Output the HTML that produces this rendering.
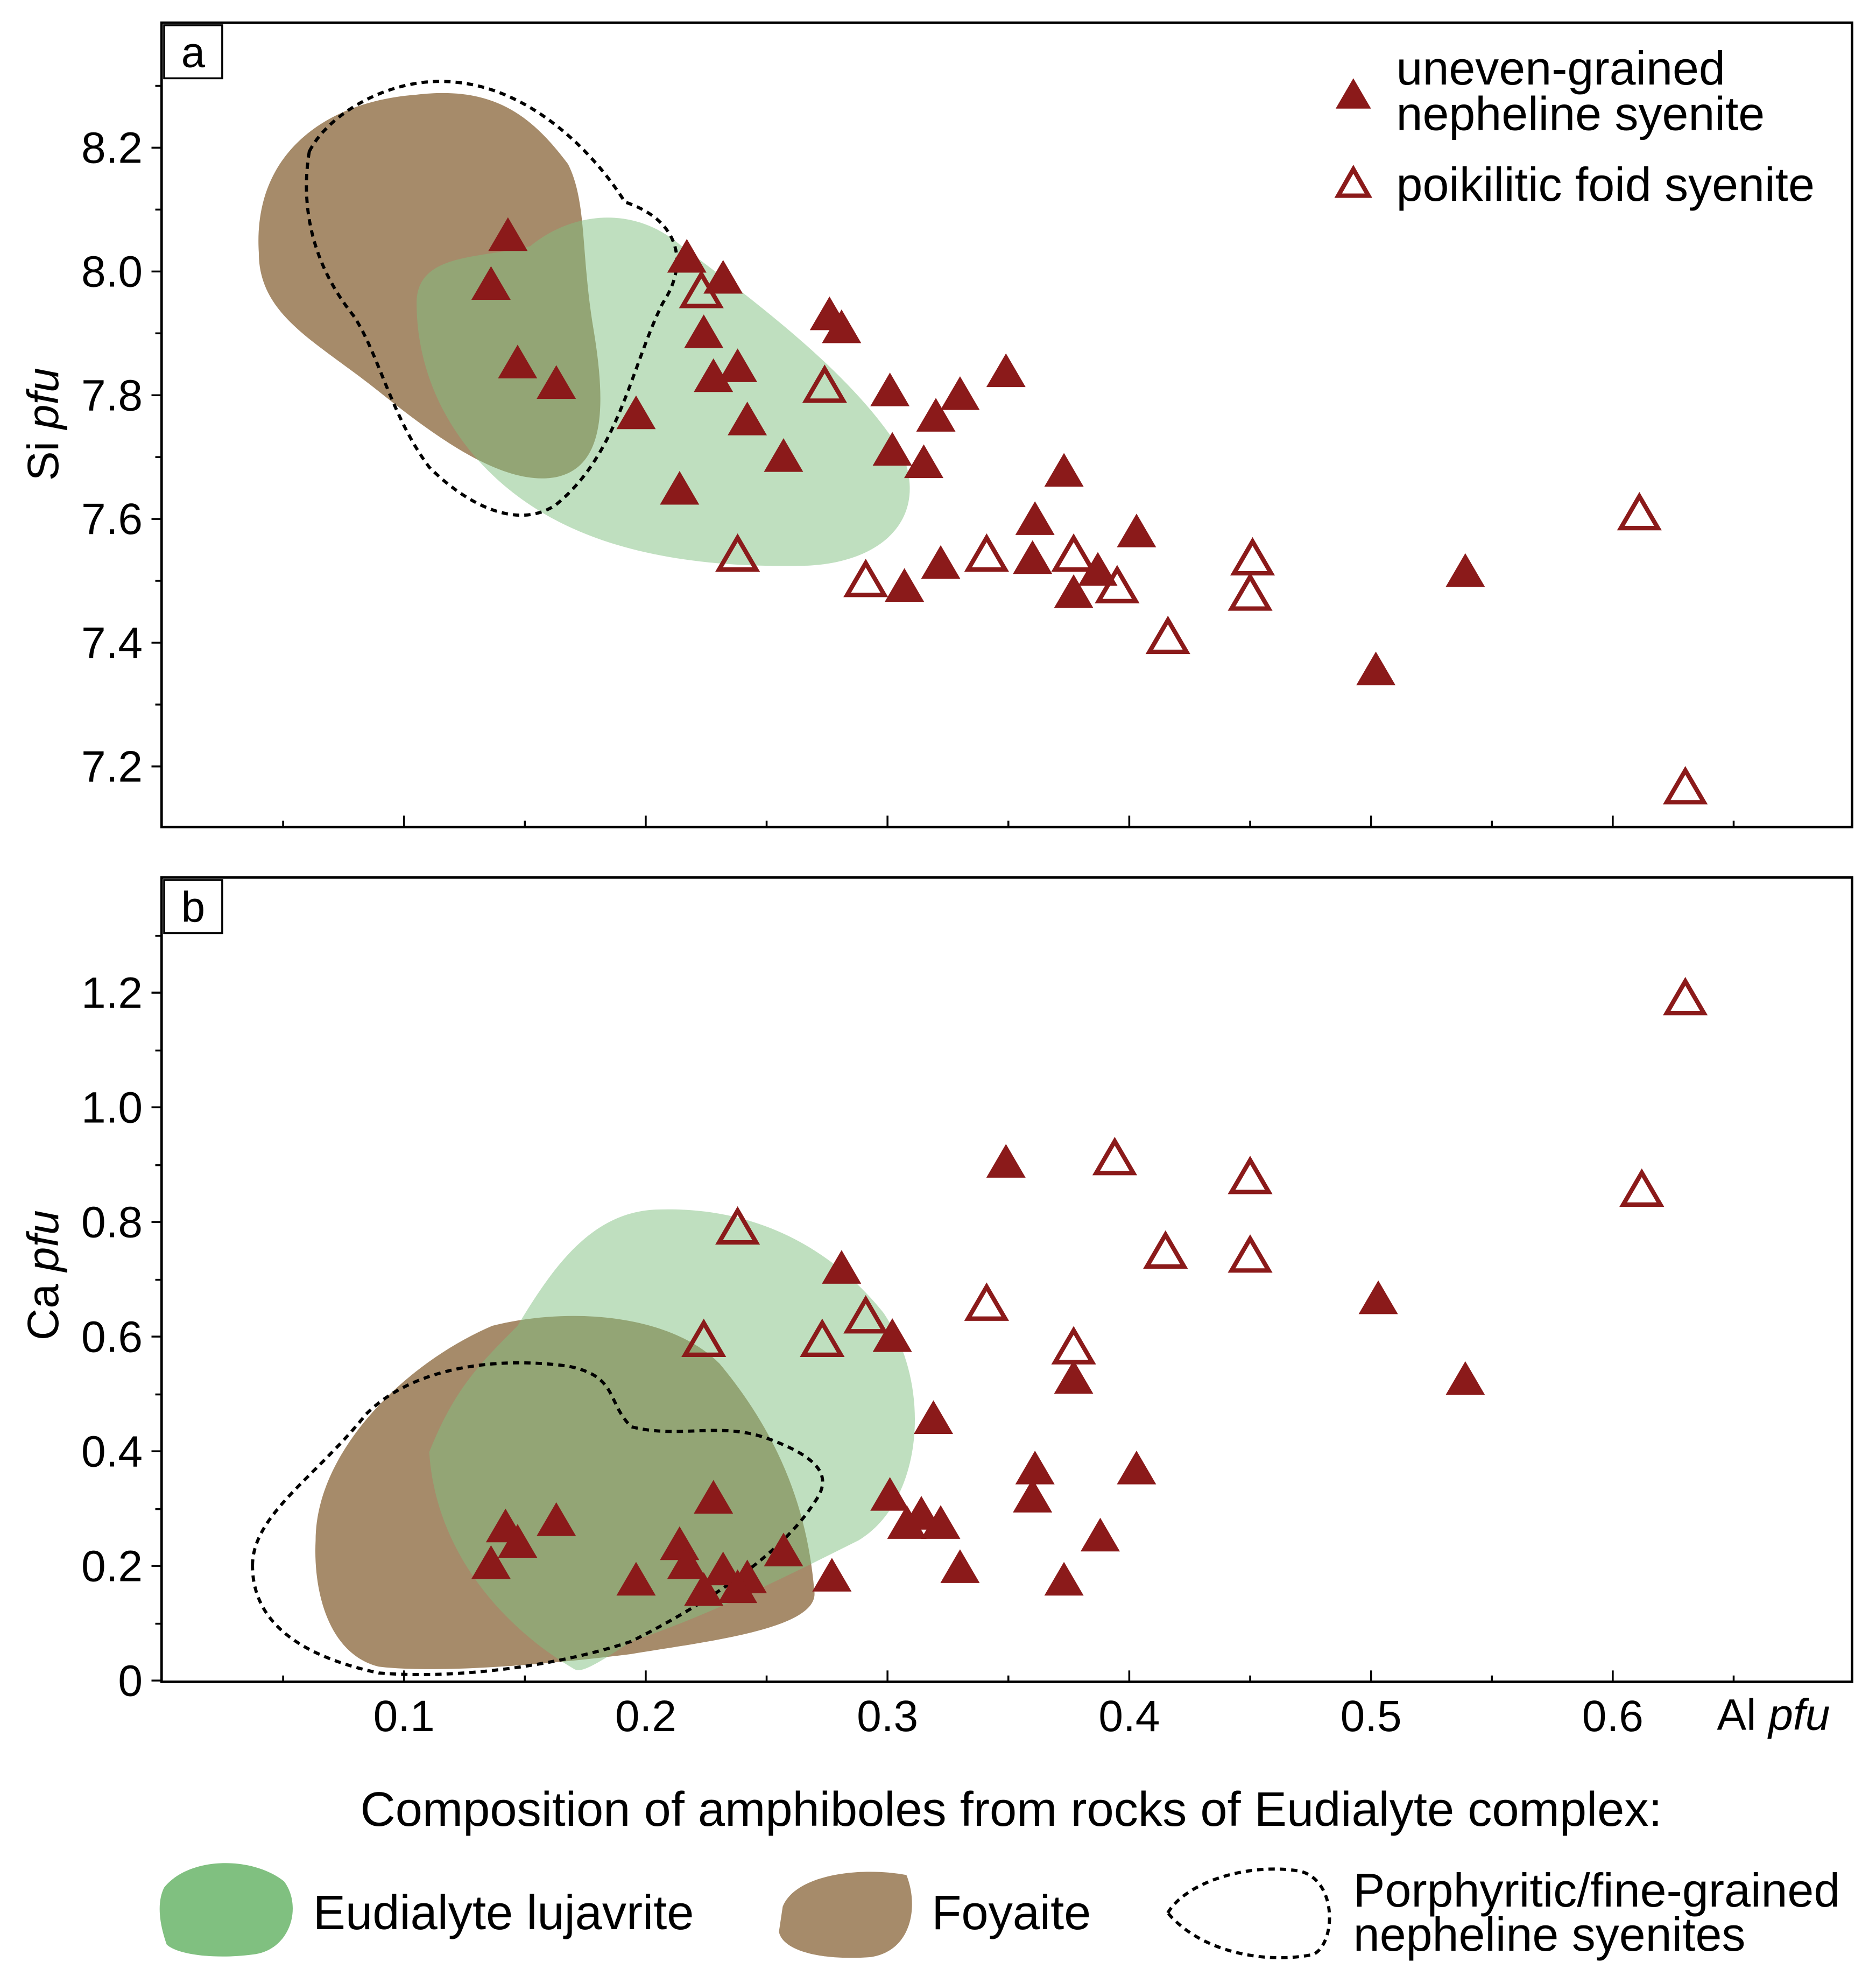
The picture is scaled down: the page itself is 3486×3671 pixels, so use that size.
<!DOCTYPE html>
<html><head><meta charset="utf-8"><style>
html,body{margin:0;padding:0;background:#fff}
svg{display:block;font-family:"Liberation Sans",Arial,sans-serif}
</style></head><body>
<svg id="chart" width="3486" height="3671" viewBox="0 0 1486 1565" preserveAspectRatio="none" xmlns="http://www.w3.org/2000/svg">
<g id="fields">
<path d="M205 200 C200 120 260 80 330 75 C390 68 420 90 450 130 C465 160 460 200 470 260 C480 320 480 370 440 378 C400 385 350 350 300 310 C250 270 205 250 205 200 Z" fill="#a68b6a"/>
<path d="M330 240 C330 200 380 205 420 195 C450 170 500 160 540 195 C600 240 680 300 715 360 C735 410 700 445 640 448 C560 450 480 440 420 400 C360 360 330 300 330 240 Z" fill="#80c080" fill-opacity="0.5"/>
<path d="M245 120 C260 90 310 60 360 65 C420 70 470 120 495 160 C540 175 545 210 525 240 C500 290 490 360 440 400 C410 420 370 400 340 370 C310 330 300 280 280 250 C240 200 240 150 245 120 Z" fill="none" stroke="#000" stroke-width="2.5" stroke-dasharray="5,4"/>
<path d="M250 1220 C250 1150 320 1080 390 1050 C450 1035 530 1040 570 1080 C620 1140 640 1200 645 1260 C650 1290 560 1300 500 1310 C420 1320 340 1325 300 1320 C260 1310 248 1260 250 1220 Z" fill="#a68b6a"/>
<path d="M340 1150 C360 1100 380 1080 410 1050 C440 1000 470 960 520 958 C600 955 660 990 700 1040 C740 1100 730 1190 680 1220 C620 1250 560 1280 500 1300 C470 1320 460 1325 455 1322 C400 1290 345 1230 340 1150 Z" fill="#80c080" fill-opacity="0.5"/>
<path d="M200 1240 C200 1200 250 1170 290 1120 C330 1080 400 1075 450 1082 C490 1090 480 1110 500 1130 C540 1140 570 1125 610 1140 C650 1155 660 1170 645 1190 C620 1230 560 1270 500 1300 C440 1320 360 1330 300 1325 C230 1310 200 1280 200 1240 Z" fill="none" stroke="#000" stroke-width="2.5" stroke-dasharray="5,4"/>
</g>
<g id="axes"></g>
<g id="marks"></g>
<rect x="128" y="18" width="1339" height="637" fill="none" stroke="#000" stroke-width="2"/>
<rect x="128" y="695" width="1339" height="637" fill="none" stroke="#000" stroke-width="2"/>
<g><rect x="130" y="20" width="46" height="42" fill="#fff" stroke="#000" stroke-width="1.5"/><text x="153" y="53" font-size="34" text-anchor="middle">a</text></g>
<g><rect x="130" y="697" width="46" height="42" fill="#fff" stroke="#000" stroke-width="1.5"/><text x="153" y="730" font-size="34" text-anchor="middle">b</text></g>
<text transform="translate(46,336) rotate(-90)" font-size="35" text-anchor="middle">Si <tspan font-style="italic">pfu</tspan></text>
<text transform="translate(46,1010) rotate(-90)" font-size="35" text-anchor="middle">Ca <tspan font-style="italic">pfu</tspan></text>
<text x="1360" y="1370" font-size="35">Al <tspan font-style="italic">pfu</tspan></text>
<g font-size="37.5">
<path d="M1072 62 L1086 86 L1058 86 Z" fill="#8b1a1a"/>
<text x="1106" y="67">uneven-grained</text><text x="1106" y="103">nepheline syenite</text>
<path d="M1072 134 L1084 155 L1060 155 Z" fill="none" stroke="#8b1a1a" stroke-width="3.5"/>
<text x="1106" y="159">poikilitic foid syenite</text>
</g>
<text x="801" y="1446" font-size="38.5" text-anchor="middle">Composition of amphiboles from rocks of Eudialyte complex:</text>
<path d="M130 1495 C150 1470 200 1470 225 1490 C240 1510 230 1545 200 1548 C170 1552 140 1548 132 1540 C125 1520 125 1505 130 1495 Z" fill="#80c080"/>
<text x="248" y="1528" font-size="38.5">Eudialyte lujavrite</text>
<path d="M620 1510 C630 1485 680 1478 718 1485 C728 1510 722 1545 690 1550 C650 1553 620 1545 617 1530 Z" fill="#a68b6a"/>
<text x="738" y="1528" font-size="38.5">Foyaite</text>
<path d="M925 1515 C940 1490 990 1475 1030 1482 C1060 1490 1058 1540 1040 1548 C1000 1556 950 1545 925 1515 Z" fill="none" stroke="#000" stroke-width="2.5" stroke-dasharray="5,4"/>
<text x="1072" y="1510" font-size="37.5">Porphyritic/fine-grained</text>
<text x="1072" y="1545" font-size="37.5">nepheline syenites</text>
</svg>
<script>
const alFilledA=[.143,.136,.147,.163,.217,.232,.224,.238,.228,.242,.196,.214,.257,.276,.281,.301,.302,.315,.320,.330,.349,.307,.322,.361,.360,.373,.377,.387,.403,.502,.539];
const siFilled=[8.057,7.978,7.851,7.818,8.022,7.988,7.900,7.845,7.829,7.759,7.769,7.647,7.700,7.929,7.908,7.806,7.710,7.690,7.765,7.800,7.837,7.490,7.527,7.598,7.535,7.676,7.480,7.516,7.578,7.355,7.514];
const alOpenA=[.223,.274,.238,.291,.341,.377,.395,.416,.451,.450,.611,.630];
const siOpen=[7.967,7.814,7.541,7.500,7.541,7.541,7.490,7.408,7.535,7.478,7.608,7.165];
const alOpenB=[.238,.224,.273,.291,.341,.377,.394,.415,.450,.450,.612,.630];
const caOpen=[.789,.593,.593,.634,.656,.580,.910,.747,.877,.740,.855,1.189];
const alFilledB=[.349,.281,.302,.319,.503,.539,.377,.361,.360,.403,.388,.373,.330,.322,.308,.314,.301,.277,.257,.228,.214,.217,.232,.224,.242,.238,.196,.163,.147,.142,.136];
const caFilled=[.903,.718,.599,.456,.665,.524,.526,.368,.319,.368,.251,.174,.196,.273,.273,.289,.322,.181,.225,.317,.236,.203,.192,.156,.178,.161,.174,.278,.240,.267,.203];
const xTicks=[0.1,0.2,0.3,0.4,0.5,0.6];
const siTicks=[7.2,7.4,7.6,7.8,8.0,8.2];
const caTicks=[0,0.2,0.4,0.6,0.8,1.0,1.2];
const NS="http://www.w3.org/2000/svg";
const X=v=>320+(v-0.1)*1915;
const YA=v=>215-(v-8)*490;
const YB=v=>1331-v*454;
const axes=document.getElementById('axes'),marks=document.getElementById('marks');
function mk(tag,attrs,parent){const e=document.createElementNS(NS,tag);for(const k in attrs)e.setAttribute(k,attrs[k]);parent.appendChild(e);return e;}
function tri(x,y,open,name){const s=14;const e=mk('path',{d:`M${x} ${y-s} L${x+s*1.05} ${y+s*0.8} L${x-s*1.05} ${y+s*0.8} Z`,fill:open?'#fff':'#8b1a1a','fill-opacity':open?0:1,stroke:'#8b1a1a','stroke-width':open?3.5:1},marks);

}
[[655,'a'],[1332,'b']].forEach(([by,p])=>{
 for(let v=0.05;v<0.66;v+=0.05){const x=X(v);const major=Math.abs(v*10-Math.round(v*10))<1e-6;
  const t=mk('line',{x1:x,x2:x,y1:by,y2:by+(major?-9:-5),stroke:'#000','stroke-width':1.5},axes);
  
  }
});
xTicks.forEach(v=>{const t=mk('text',{x:X(v),y:1371,'font-size':35,'text-anchor':'middle'},axes);t.textContent=v.toFixed(1);
 
 });
siTicks.forEach(v=>{const y=YA(v);mk('line',{x1:128,x2:120,y1:y,y2:y,stroke:'#000','stroke-width':1.5},axes);
 mk('line',{x1:128,x2:123,y1:y-49,y2:y-49,stroke:'#000','stroke-width':1.5},axes);
 const t=mk('text',{x:113,y:y+12,'font-size':35,'text-anchor':'end'},axes);t.textContent=v.toFixed(1);
 
 });
caTicks.forEach(v=>{const y=YB(v);mk('line',{x1:128,x2:120,y1:y,y2:y,stroke:'#000','stroke-width':1.5},axes);
 if(v<1.3)mk('line',{x1:128,x2:123,y1:y-45,y2:y-45,stroke:'#000','stroke-width':1.5},axes);
 const t=mk('text',{x:113,y:y+12,'font-size':35,'text-anchor':'end'},axes);t.textContent=v===0?'0':v.toFixed(1);
 
 });
alFilledA.forEach((a,i)=>tri(X(a),YA(siFilled[i]),false,'point-si-uneven'));
alOpenA.forEach((a,i)=>tri(X(a),YA(siOpen[i]),true,'point-si-poikilitic'));
alFilledB.forEach((a,i)=>tri(X(a),YB(caFilled[i]),false,'point-ca-uneven'));
alOpenB.forEach((a,i)=>tri(X(a),YB(caOpen[i]),true,'point-ca-poikilitic'));
</script>
</body></html>
